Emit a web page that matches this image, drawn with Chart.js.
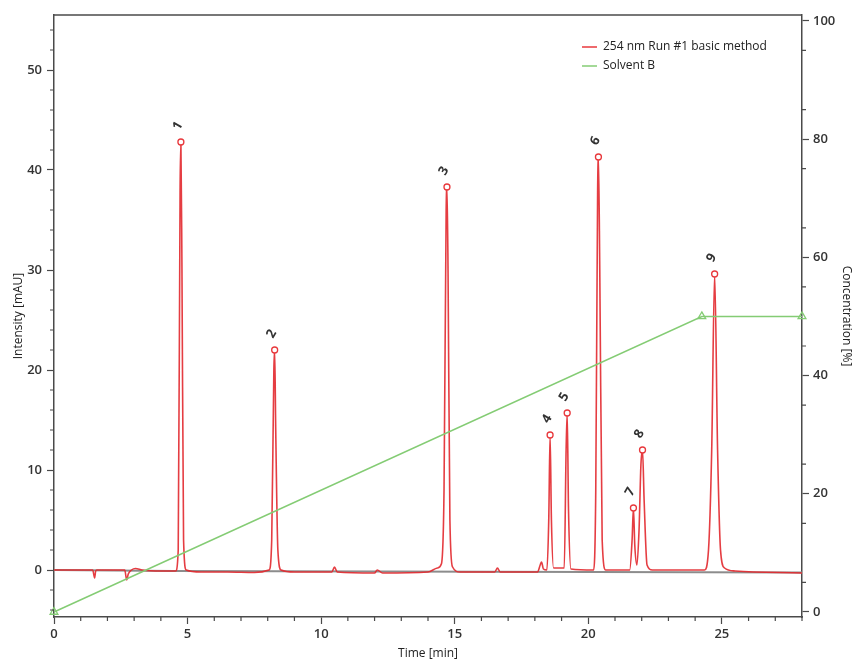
<!DOCTYPE html>
<html>
<head>
<meta charset="utf-8">
<script src="https://cdn.jsdelivr.net/npm/chart.js@4"></script>
<style>
  html, body { margin: 0; padding: 0; background: #fff; }
  #wrap { width: 855px; height: 663px; position: relative; }
</style>
</head>
<body>
<div id="wrap"><canvas id="chrom"></canvas></div>
<script>
// Chromatogram trace (time in min, intensity in mAU)
const traceTime = [0, 1.45, 1.52, 1.56, 1.6, 2.65, 2.72, 2.78, 2.9, 3.05, 3.3, 4.0, 4.55, 4.65, 4.72, 4.75, 4.79, 4.85, 4.95,
  5.5, 6.5, 7.5, 8.05, 8.15, 8.23, 8.26, 8.3, 8.38, 8.5, 9.0, 10.4, 10.5, 10.6, 12.0, 12.1, 12.3, 14.0, 14.35, 14.5,
  14.6, 14.68, 14.71, 14.75, 14.82, 14.92, 15.2, 16.5, 16.6, 16.7, 18.1, 18.2, 18.25, 18.32, 18.45, 18.52, 18.57, 18.62,
  18.7, 19.1, 19.17, 19.21, 19.26, 19.35, 20.2, 20.28, 20.35, 20.38, 20.43, 20.52, 20.65, 21.55, 21.64, 21.69, 21.74,
  21.82, 21.9, 21.97, 22.03, 22.09, 22.2, 22.4, 24.35, 24.5, 24.62, 24.73, 24.84, 24.95, 25.1, 25.5, 28.0];
const traceIntensity = [0, 0, -0.8, -0.1, 0, 0, -1.0, -0.4, 0, 0.15, 0, -0.1, -0.1, 2, 38, 42.8, 30, 3, 0,
  -0.2, -0.2, -0.25, 0, 3, 20, 22.0, 14, 2, 0, -0.2, -0.2, 0.3, -0.2, -0.3, 0, -0.3, -0.2, 0.2, 0.6,
  8, 36, 38.3, 30, 5, 0.3, -0.2, -0.2, 0.2, -0.2, -0.2, 0.5, 0.8, 0.1, 0, 5, 13.5, 5,
  0.2, 0.2, 12, 15.7, 6, 0.1, 0, 8, 38, 41.3, 30, 3, 0, 0, 3, 6.2, 2.5,
  0.5, 4, 10.5, 12.0, 7, 0.5, 0, 0, 2, 12, 29.6, 12, 2, 0.2, -0.1, -0.3];

// integration baseline (grey)
const baseTime = [0, 4.5, 28];
const baseIntensity = [0, -0.1, -0.25];

// detected peaks
const peakLabels = ['1', '2', '3', '4', '5', '6', '7', '8', '9'];
const peakTime = [4.75, 8.26, 14.71, 18.57, 19.21, 20.38, 21.69, 22.03, 24.73];
const peakHeight = [42.8, 22.0, 38.3, 13.5, 15.7, 41.3, 6.2, 12.0, 29.6];

// Solvent B gradient (%)
const gradTime = [0, 24.25, 28];
const gradConc = [0, 50, 50];

const xTicks = [0, 5, 10, 15, 20, 25];
const legendLabels = ['254 nm Run #1 basic method', 'Solvent B'];

const RED = '#e8383c';
const GREEN = '#84cc74';
const FONT = "'Open Sans', 'DejaVu Sans', sans-serif";

const toXY = (xs, ys) => xs.map((x, i) => ({ x, y: ys[i] }));

// minor ticks, frame, peak labels and the in-plot legend
const decorPlugin = {
    id: 'decor',
    afterDraw(chart) {
        const { ctx, chartArea: a, scales } = chart;
        ctx.save();
        ctx.strokeStyle = '#4a4a4a';
        ctx.lineWidth = 1.5;
        ctx.beginPath();
        ctx.moveTo(a.left, a.top);
        ctx.lineTo(a.right, a.top);
        ctx.stroke();

        ctx.lineWidth = 1.2;
        ctx.beginPath();
        for (let t = 1; t <= 28; t++) {
            if (t % 5 === 0) continue;
            const px = scales.x.getPixelForValue(t);
            ctx.moveTo(px, a.bottom);
            ctx.lineTo(px, a.bottom + 4);
        }
        for (let v = -4; v <= 54; v += 2) {
            if (v % 10 === 0) continue;
            const py = scales.y.getPixelForValue(v);
            ctx.moveTo(a.left, py);
            ctx.lineTo(a.left - 4, py);
        }
        for (let v = 5; v <= 95; v += 10) {
            const py = scales.y1.getPixelForValue(v);
            ctx.moveTo(a.right, py);
            ctx.lineTo(a.right + 4, py);
        }
        ctx.stroke();

        // peak numbers
        ctx.fillStyle = '#333';
        ctx.font = `bold 13px ${FONT}`;
        ctx.textAlign = 'center';
        ctx.textBaseline = 'middle';
        peakLabels.forEach((lbl, i) => {
            const px = scales.x.getPixelForValue(peakTime[i]) - 3;
            const py = scales.y.getPixelForValue(peakHeight[i]) - 16;
            ctx.save();
            ctx.translate(px, py);
            ctx.rotate(-Math.PI / 3);
            ctx.fillText(lbl, 0, 0);
            ctx.restore();
        });

        // legend
        const lx = 582, ly = 47;
        [RED, GREEN].forEach((col, i) => {
            const y = ly + i * 19;
            ctx.strokeStyle = col;
            ctx.lineWidth = 1.5;
            ctx.beginPath();
            ctx.moveTo(lx, y);
            ctx.lineTo(lx + 15, y);
            ctx.stroke();
            ctx.fillStyle = '#222';
            ctx.font = `12px ${FONT}`;
            ctx.textAlign = 'left';
            ctx.fillText(legendLabels[i], lx + 21, y);
        });
        ctx.restore();
    }
};

const tickFont = { family: FONT, size: 13, weight: '600' };
const titleFont = { family: FONT, size: 12 };

new Chart(document.getElementById('chrom'), {
    type: 'line',
    data: {
        datasets: [
            { label: 'baseline', data: toXY(baseTime, baseIntensity), borderColor: '#8c8c8c', borderWidth: 2,
              pointRadius: 0, yAxisID: 'y', order: 3 },
            { label: legendLabels[0], data: toXY(traceTime, traceIntensity), borderColor: 'rgba(226,40,46,0.9)',
              borderWidth: 1.6, pointRadius: 0, cubicInterpolationMode: 'monotone', yAxisID: 'y', order: 2 },
            { label: 'peaks', data: toXY(peakTime, peakHeight), showLine: false, pointStyle: 'circle', pointRadius: 3,
              pointBorderWidth: 1.3, pointBorderColor: RED, pointBackgroundColor: '#fff', yAxisID: 'y', order: 1 },
            { label: legendLabels[1], data: toXY(gradTime, gradConc), borderColor: GREEN, borderWidth: 1.5,
              pointStyle: 'triangle', pointRadius: 4.5, pointBorderWidth: 1.3, pointBorderColor: GREEN,
              pointBackgroundColor: 'rgba(255,255,255,0)', yAxisID: 'y1', clip: false, order: 0 }
        ]
    },
    options: {
        responsive: true,
        maintainAspectRatio: false,
        animation: false,
        layout: { padding: { top: 15, left: 0, right: 0, bottom: 0 } },
        plugins: { legend: { display: false }, tooltip: { enabled: false } },
        scales: {
            x: {
                type: 'linear', min: 0, max: 28,
                afterFit: s => { s.height = 46; },
                afterBuildTicks: s => { s.ticks = xTicks.map(v => ({ value: v })); },
                ticks: { color: '#333', font: tickFont, padding: 2, maxRotation: 0 },
                grid: { drawOnChartArea: false, tickLength: 7, tickColor: '#4a4a4a', tickWidth: 1.2 },
                border: { color: '#4a4a4a', width: 1.5 },
                title: { display: true, text: 'Time [min]', color: '#222', font: titleFont, padding: { top: 0, bottom: 2 } }
            },
            y: {
                position: 'left', min: -4.7, max: 55.5,
                afterFit: s => { s.width = 54; },
                ticks: { stepSize: 10, includeBounds: false, color: '#333', font: tickFont, padding: 5 },
                grid: { drawOnChartArea: false, tickLength: 7, tickColor: '#4a4a4a', tickWidth: 1.2 },
                border: { color: '#4a4a4a', width: 1.5 },
                title: { display: true, text: 'Intensity [mAU]', color: '#222', font: titleFont, padding: { top: 11, bottom: 0 } }
            },
            y1: {
                position: 'right', min: -0.85, max: 101,
                afterFit: s => { s.width = 53; },
                ticks: { stepSize: 20, includeBounds: false, color: '#333', font: tickFont, padding: 4 },
                grid: { drawOnChartArea: false, tickLength: 7, tickColor: '#4a4a4a', tickWidth: 1.2 },
                border: { color: '#4a4a4a', width: 1.5 },
                title: { display: true, text: 'Concentration [%]', color: '#222', font: titleFont, padding: { top: 1, bottom: 0 } }
            }
        }
    },
    plugins: [decorPlugin]
});
</script>
</body>
</html>
